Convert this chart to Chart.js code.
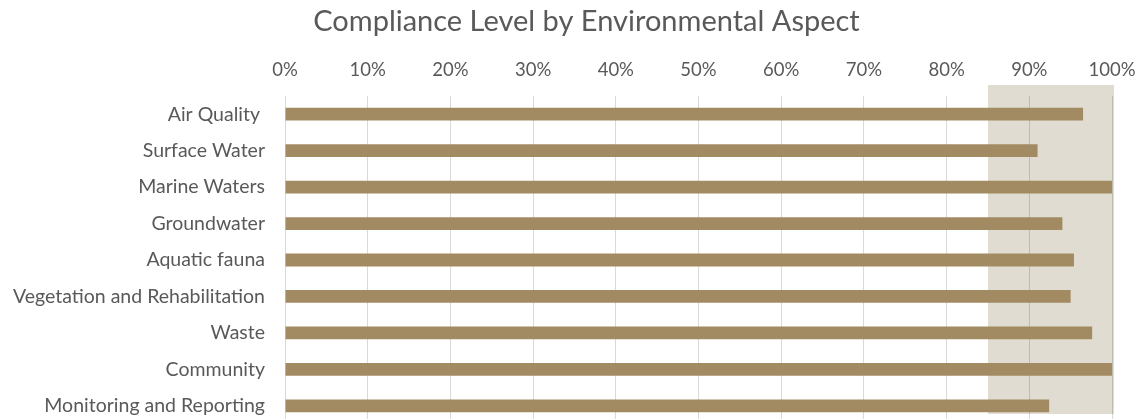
<!DOCTYPE html>
<html>
<head>
<meta charset="utf-8">
<script src="https://cdn.jsdelivr.net/npm/chart.js@4"></script>
<style>
  html, body { margin: 0; padding: 0; background: #fff; overflow: hidden; }
  #wrap { width: 1139px; height: 430px; }
</style>
</head>
<body>
<div id="wrap"><canvas id="chart" width="1139" height="430"></canvas></div>
<script>
// compliance values (percent)
var aspects = ['Air Quality ', 'Surface Water', 'Marine Waters', 'Groundwater', 'Aquatic fauna',
               'Vegetation and Rehabilitation', 'Waste', 'Community', 'Monitoring and Reporting'];
var compliance = [96.5, 91, 100, 94, 95.4, 95, 97.6, 100, 92.4];
var tickValues = [0, 10, 20, 30, 40, 50, 60, 70, 80, 90, 100];
var targetBand = [85, 100];
var chartTitle = 'Compliance Level by Environmental Aspect';

var textColor = '#595959';
var fontName = 'Lato, "Open Sans", sans-serif';

// shaded target band, drawn before the grid so the grid lines sit on top of it
var bandPlugin = {
    id: 'band',
    beforeDraw: function(chart) {
        var x = chart.scales.x, a = chart.chartArea, ctx = chart.ctx;
        var x0 = x.getPixelForValue(targetBand[0]);
        var x1 = x.getPixelForValue(targetBand[1]) + 2;
        ctx.save();
        ctx.fillStyle = '#e1dcd1';
        ctx.fillRect(x0, a.top - 11, x1 - x0, a.bottom - a.top + 1);
        ctx.restore();
    }
};

// title is a little off the canvas centre in the original
var titlePlugin = {
    id: 'offTitle',
    afterDraw: function(chart) {
        var ctx = chart.ctx;
        ctx.save();
        ctx.font = '29px ' + fontName;
        ctx.fillStyle = textColor;
        ctx.textAlign = 'center';
        ctx.textBaseline = 'middle';
        ctx.fillText(chartTitle, chart.width / 2 + 17, 22);
        ctx.restore();
    }
};

new Chart(document.getElementById('chart'), {
    type: 'bar',
    data: {
        labels: aspects,
        datasets: [{
            data: compliance,
            backgroundColor: '#a28b62',
            borderWidth: 0,
            barPercentage: 0.35,
            categoryPercentage: 1
        }]
    },
    options: {
        indexAxis: 'y',
        responsive: false,
        animation: false,
        devicePixelRatio: 1,
        layout: { padding: { top: 56, right: 27, bottom: 6, left: 0 } },
        plugins: {
            legend: { display: false },
            title: { display: false },
            tooltip: { enabled: false }
        },
        scales: {
            x: {
                position: 'top',
                min: 0,
                max: 100,
                afterBuildTicks: function(s) {
                    s.ticks = tickValues.map(function(v) { return { value: v }; });
                },
                afterFit: function(s) {
                    s.height = 40;
                    s.paddingLeft = 0;
                    s.paddingRight = 0;
                },
                grid: { color: 'rgba(0,0,0,0.15)', drawTicks: false },
                border: { display: false },
                ticks: {
                    padding: 15,
                    color: textColor,
                    font: { family: fontName, size: 18.5 },
                    callback: function(v) { return v + '%'; }
                }
            },
            y: {
                afterFit: function(s) {
                    s.width = 285;
                    s.paddingTop = 0;
                    s.paddingBottom = 0;
                },
                grid: { display: false, drawTicks: false },
                border: { display: false },
                ticks: {
                    padding: 20,
                    color: textColor,
                    font: { family: fontName, size: 19.5 }
                }
            }
        }
    },
    plugins: [bandPlugin, titlePlugin]
});
</script>
</body>
</html>
